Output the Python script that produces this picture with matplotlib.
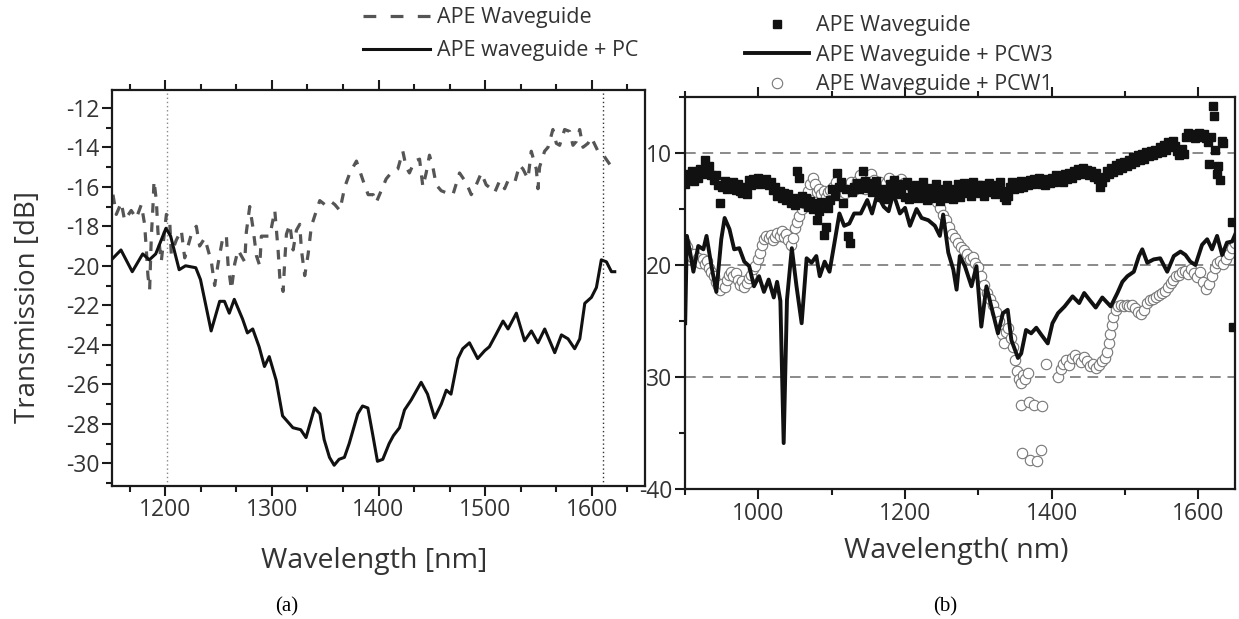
import matplotlib
matplotlib.use("Agg")
import matplotlib.pyplot as plt
from matplotlib.ticker import MultipleLocator, AutoMinorLocator
from matplotlib.lines import Line2D

plt.rcParams['font.family'] = ['Open Sans', 'DejaVu Sans']
plt.rcParams['axes.unicode_minus'] = False

# ---------------- panel (a) data ----------------
# APE waveguide alone (dashed, very noisy)
ape_x = [1150.9, 1154.0, 1158.7, 1161.8, 1168.0, 1172.8, 1177.5, 1180.6, 1182.2, 1183.7,
         1185.3, 1186.9, 1188.4, 1189.4, 1191.6, 1193.1, 1196.2, 1201.0, 1204.0, 1205.6,
         1210.3, 1215.0, 1218.2, 1224.4, 1229.1, 1232.2, 1237.0, 1243.2, 1246.3, 1249.5,
         1254.2, 1257.3, 1258.8, 1262.0, 1265.1, 1268.2, 1274.5, 1276.0, 1279.2, 1282.3,
         1285.5, 1288.6, 1290.1, 1294.8, 1298.0, 1302.7, 1305.8, 1307.4, 1310.5, 1312.0,
         1313.6, 1316.8, 1319.9, 1323.0, 1326.1, 1327.7, 1330.8, 1334.0, 1337.0, 1341.8,
         1344.9, 1349.6, 1354.3, 1359.0, 1363.7, 1368.4, 1373.1, 1379.3, 1385.6, 1390.3,
         1395.0, 1397.8, 1402.5, 1407.2, 1411.8, 1415.0, 1418.1, 1422.8, 1425.9, 1429.0,
         1433.8, 1438.5, 1441.6, 1444.7, 1447.8, 1451.0, 1454.1, 1458.8, 1463.5, 1469.8,
         1476.0, 1482.3, 1487.0, 1491.7, 1496.4, 1501.0, 1505.7, 1508.9, 1513.6, 1518.3,
         1521.4, 1527.7, 1532.3, 1535.5, 1540.2, 1543.3, 1548.0, 1549.6, 1551.1, 1555.8,
         1559.0, 1563.6, 1566.8, 1569.9, 1574.6, 1579.3, 1582.4, 1585.6, 1588.7, 1591.8,
         1596.5, 1599.6, 1605.9, 1612.2, 1620.0]
ape_y = [-16.4, -17.4, -16.8, -17.7, -17.2, -17.6, -16.9, -17.9, -19.2, -20.5,
         -21.2, -18.5, -17.0, -15.7, -16.7, -18.3, -19.8, -17.4, -17.6, -19.4,
         -18.7, -18.2, -19.6, -18.4, -18.0, -19.0, -18.6, -19.8, -21.0, -19.9,
         -18.5, -18.5, -19.9, -21.2, -19.9, -19.2, -19.8, -18.3, -17.0, -18.1,
         -19.5, -20.0, -18.5, -18.5, -18.5, -17.2, -19.2, -20.6, -21.3, -19.8,
         -18.4, -17.9, -19.2, -18.2, -17.9, -19.2, -20.5, -19.4, -18.0, -17.2,
         -16.7, -16.9, -16.7, -16.9, -17.2, -16.0, -15.3, -14.7, -15.7, -16.4,
         -16.4, -16.8, -16.2, -15.6, -15.3, -15.2, -15.1, -14.2, -15.0, -15.3,
         -14.7, -14.6, -16.0, -15.3, -14.4, -15.0, -15.9, -16.2, -16.3, -16.4,
         -15.3, -15.8, -16.4, -15.9, -15.3, -15.9, -16.1, -16.3, -15.7, -16.1,
         -15.7, -15.8, -14.9, -15.1, -15.6, -14.2, -15.1, -16.1, -15.0, -14.2,
         -14.0, -13.1, -13.8, -13.9, -13.1, -13.2, -13.9, -13.7, -13.1, -14.0,
         -13.8, -13.5, -14.2, -14.5, -15.1]

# APE waveguide + PC (solid)
pc_x = [1149.4, 1158.4, 1169.0, 1178.8, 1185.0, 1191.0, 1200.6, 1205.0, 1213.0, 1219.0,
        1228.6, 1233.0, 1243.0, 1251.0, 1255.5, 1260.0, 1264.7, 1272.5, 1277.0, 1282.0,
        1288.0, 1293.0, 1297.5, 1304.0, 1310.0, 1319.7, 1327.0, 1332.0, 1340.0, 1345.0,
        1349.0, 1354.0, 1358.4, 1363.0, 1368.0, 1372.5, 1380.5, 1385.0, 1390.0, 1394.4,
        1399.0, 1404.0, 1410.0, 1414.0, 1419.7, 1424.4, 1430.6, 1440.0, 1446.0, 1452.6,
        1458.9, 1463.6, 1468.0, 1474.5, 1479.0, 1485.3, 1493.0, 1499.6, 1504.0, 1510.0,
        1516.8, 1521.5, 1529.3, 1537.0, 1543.4, 1549.6, 1555.9, 1565.3, 1571.6, 1577.8,
        1584.0, 1588.8, 1593.5, 1599.7, 1604.4, 1609.0, 1613.8, 1618.5, 1621.6]
pc_y = [-19.7, -19.2, -20.3, -19.4, -19.7, -19.4, -18.1, -18.5, -20.2, -20.0,
        -20.1, -20.7, -23.3, -21.8, -21.8, -22.4, -21.7, -22.7, -23.4, -23.2,
        -24.1, -25.1, -24.6, -25.8, -27.6, -28.2, -28.3, -28.7, -27.2, -27.5,
        -28.8, -29.7, -30.1, -29.8, -29.7, -29.0, -27.5, -27.1, -27.2, -28.5,
        -29.9, -29.8, -29.0, -28.6, -28.2, -27.3, -26.8, -25.9, -26.5, -27.7,
        -27.0, -26.3, -26.5, -24.7, -24.2, -23.9, -24.7, -24.3, -24.1, -23.5,
        -22.8, -23.2, -22.4, -23.8, -23.3, -23.9, -23.2, -24.4, -23.5, -23.7,
        -24.2, -23.7, -21.9, -21.6, -21.1, -19.7, -19.8, -20.3, -20.3]

marker_lines = [1202, 1611]

# ---------------- panel (b) data ----------------
# APE waveguide (squares)
sq_x = [900, 903, 906, 909, 912, 915, 918, 921, 924, 927, 930, 933, 936, 939, 942, 945, 948, 951,
        954, 957, 960, 963, 966, 969, 972, 975, 978, 981, 984, 987, 990, 993, 996, 999, 1002, 1005,
        1008, 1011, 1014, 1017, 1020, 1023, 1026, 1029, 1032, 1035, 1038, 1041, 1044, 1047, 1050,
        1053, 1056, 1059, 1062, 1065, 1068, 1071, 1074, 1077, 1080, 1083, 1086, 1089, 1092, 1095,
        1098, 1101, 1104, 1107, 1110, 1113, 1116, 1119, 1122, 1125, 1128, 1131, 1134, 1137, 1140,
        1143, 1146, 1149, 1152, 1155, 1158, 1161, 1164, 1167, 1170, 1173, 1176, 1179, 1182, 1185,
        1188, 1191, 1194, 1197, 1200, 1203, 1206, 1209, 1212, 1215, 1218, 1221, 1224, 1227, 1230,
        1233, 1236, 1239, 1242, 1245, 1248, 1251, 1254, 1257, 1260, 1263, 1266, 1269, 1272, 1275,
        1278, 1281, 1284, 1287, 1290, 1293, 1296, 1299, 1302, 1305, 1308, 1311, 1314, 1317, 1320,
        1323, 1326, 1329, 1332, 1335, 1338, 1340, 1343, 1346, 1349, 1352, 1355, 1358, 1361, 1364,
        1367, 1370, 1373, 1376, 1379, 1382, 1385, 1388, 1391, 1394, 1397, 1400, 1403, 1406, 1409,
        1412, 1415, 1418, 1421, 1424, 1427, 1430, 1433, 1436, 1439, 1442, 1445, 1448, 1451, 1454,
        1457, 1460, 1463, 1466, 1469, 1472, 1475, 1478, 1481, 1484, 1487, 1490, 1493, 1496, 1499,
        1502, 1505, 1508, 1511, 1514, 1517, 1520, 1523, 1526, 1529, 1532, 1535, 1538, 1541, 1544,
        1547, 1550, 1553, 1556, 1559, 1562, 1565, 1568, 1571, 1574, 1577, 1580, 1583, 1586, 1589,
        1592, 1595, 1598, 1601, 1604, 1607, 1610, 1613, 1614, 1617, 1620, 1621, 1623, 1625, 1627,
        1630, 1632, 1634, 1646, 1647]
sq_y = [12.8, 11.9, 12.3, 11.6, 12.5, 11.8, 12.2, 11.4, 11.9, 10.6, 11.5, 11.2, 12.0, 12.4, 12.0,
        12.9, 14.5, 13.0, 12.5, 13.2, 12.7, 13.1, 12.6, 13.3, 12.8, 13.4, 13.6, 13.0, 13.7, 12.4,
        12.9, 12.3, 12.6, 12.2, 12.8, 12.4, 12.7, 12.3, 12.9, 12.6, 13.3, 13.0, 13.8, 13.4, 14.0,
        13.6, 14.2, 13.7, 14.5, 14.0, 14.6, 11.6, 12.2, 13.8, 14.5, 14.0, 14.8, 14.3, 15.0, 14.5,
        16.0, 15.2, 14.4, 17.3, 16.6, 14.9, 14.2, 13.2, 13.8, 11.8, 13.0, 12.6, 14.5, 13.2, 17.4,
        18.0, 13.5, 13.0, 12.7, 13.2, 12.8, 11.6, 12.5, 13.1, 12.7, 13.5, 13.0, 12.5, 13.3, 13.9,
        13.2, 14.1, 13.4, 12.8, 13.6, 12.4, 13.5, 12.8, 13.7, 12.9, 13.9, 12.6, 14.1, 13.3, 13.8,
        12.9, 14.0, 13.4, 12.6, 13.6, 14.2, 13.1, 14.0, 13.5, 12.8, 13.7, 14.3, 13.2, 14.0, 12.9,
        13.8, 13.2, 14.1, 13.4, 12.8, 13.9, 13.3, 12.7, 13.6, 13.0, 13.8, 12.6, 13.4, 12.9, 13.6,
        12.9, 13.8, 13.2, 12.7, 13.5, 12.9, 13.7, 13.1, 12.6, 13.4, 13.9, 14.2, 13.8, 13.0, 12.6,
        13.2, 12.7, 13.1, 12.5, 13.0, 12.6, 12.9, 12.4, 12.8, 12.3, 12.7, 12.2, 12.8, 12.4, 12.9,
        12.3, 12.7, 12.2, 12.6, 12.0, 12.5, 12.1, 12.6, 11.9, 12.3, 11.8, 12.2, 11.6, 12.0, 11.4,
        11.9, 11.3, 11.8, 11.5, 12.0, 11.6, 12.1, 11.8, 12.3, 13.0, 12.6, 12.1, 11.6, 11.9, 11.3,
        11.7, 11.1, 11.5, 10.9, 11.3, 10.8, 11.2, 10.6, 11.0, 10.4, 10.8, 10.2, 10.6, 10.1, 10.5,
        9.9, 10.3, 9.8, 10.2, 9.7, 10.0, 9.5, 9.9, 9.3, 9.7, 9.0, 9.5, 8.9, 9.4, 9.8, 10.2, 9.6,
        10.1, 8.6, 8.2, 8.5, 8.3, 8.7, 8.4, 8.2, 8.6, 8.3, 8.7, 9.0, 11.0, 8.6, 5.8, 6.7, 9.7,
        11.9, 11.2, 12.4, 8.9, 9.1, 16.2, 25.5]

# APE waveguide + PCW3 (solid line)
pcw3_x = [900.2, 902.5, 907.0, 911.4, 918.0, 925.0, 929.3, 936.0, 942.7, 949.4, 954.0, 960.6,
          967.0, 974.0, 980.8, 987.5, 994.0, 1000.9, 1007.6, 1014.0, 1021.0, 1025.5, 1030.0,
          1034.5, 1039.0, 1045.6, 1052.0, 1059.0, 1065.8, 1072.5, 1079.0, 1083.7, 1090.4, 1097.0,
          1103.8, 1110.5, 1117.0, 1124.0, 1130.6, 1139.6, 1148.5, 1155.0, 1162.0, 1171.0, 1177.6,
          1184.0, 1193.0, 1200.0, 1206.7, 1215.7, 1222.6, 1231.7, 1240.7, 1247.5, 1252.0, 1259.0,
          1265.8, 1270.3, 1274.7, 1281.6, 1290.6, 1297.4, 1304.0, 1311.0, 1317.6, 1326.7, 1333.5,
          1340.0, 1345.0, 1354.0, 1358.4, 1365.0, 1372.0, 1379.0, 1385.5, 1394.6, 1401.0, 1408.6,
          1417.6, 1428.5, 1437.5, 1444.3, 1451.4, 1460.0, 1469.0, 1480.5, 1489.6, 1496.4, 1503.2,
          1512.0, 1519.0, 1523.5, 1530.3, 1539.0, 1548.0, 1557.5, 1566.5, 1575.6, 1582.4, 1589.0,
          1596.0, 1605.0, 1612.0, 1618.6, 1625.5, 1632.4, 1639.0, 1646.0, 1650.0]
pcw3_y = [25.2, 17.4, 18.9, 20.6, 18.3, 18.6, 17.4, 20.1, 22.4, 17.7, 15.8, 16.8,
          18.6, 18.5, 19.7, 20.1, 21.9, 21.0, 22.4, 21.3, 22.9, 21.5, 23.2,
          35.9, 23.1, 18.5, 21.9, 25.2, 19.4, 19.8, 19.2, 21.0, 19.7, 20.6,
          18.0, 15.4, 16.5, 16.3, 15.4, 15.4, 14.2, 15.4, 13.7, 14.8, 15.2,
          13.6, 15.4, 14.9, 16.5, 15.0, 15.8, 16.0, 16.5, 17.4, 15.5, 18.9,
          20.4, 22.2, 19.2, 20.1, 21.9, 20.1, 25.5, 21.9, 23.7, 26.1, 24.3,
          24.0, 26.7, 28.3, 27.9, 25.8, 26.1, 25.6, 26.2, 27.0, 25.2, 24.3,
          23.7, 22.8, 23.4, 22.5, 23.1, 23.8, 22.9, 23.7, 22.5, 21.5, 21.0,
          20.6, 19.2, 18.6, 19.8, 19.5, 19.4, 20.6, 19.2, 18.8, 19.1, 19.7,
          20.0, 18.2, 17.7, 18.6, 17.4, 19.1, 18.0, 17.9, 17.3]

# APE waveguide + PCW1 (open circles)
ci_x = [900, 903, 906, 909, 912, 915, 918, 921, 924, 927, 930, 933, 936, 939, 942, 945, 948, 951,
        954, 957, 960, 963, 966, 969, 972, 975, 978, 981, 984, 987, 990, 993, 996, 999, 1002, 1005,
        1008, 1011, 1014, 1017, 1020, 1023, 1026, 1029, 1032, 1035, 1038, 1041, 1044, 1047, 1050,
        1053, 1056, 1059, 1062, 1065, 1068, 1071, 1074, 1077, 1080, 1083, 1086, 1089, 1092, 1095,
        1098, 1102, 1106, 1110, 1114, 1118, 1122, 1126, 1130, 1134, 1138, 1142, 1146, 1150, 1154,
        1158, 1162, 1166, 1170, 1174, 1178, 1182, 1186, 1190, 1194, 1198, 1202, 1206, 1210, 1214,
        1218, 1222, 1226, 1230, 1234, 1240, 1244, 1248, 1252, 1256, 1260, 1264, 1268, 1272, 1276,
        1280, 1284, 1288, 1292, 1296, 1300, 1304, 1308, 1312, 1316, 1320, 1324, 1328, 1332, 1335,
        1338, 1341, 1344, 1347, 1350, 1352, 1355, 1358, 1361, 1364, 1367,
        1358, 1369, 1376, 1387, 1360, 1370, 1380, 1386, 1392,
        1408, 1412, 1416, 1420, 1424, 1428, 1432, 1436, 1440, 1444, 1448, 1452, 1456, 1460, 1464,
        1468, 1472, 1476, 1478, 1480, 1482, 1484, 1487, 1490, 1494, 1498, 1502, 1506, 1510, 1514,
        1518, 1522, 1526, 1530, 1534, 1538, 1542, 1546, 1550, 1554, 1558, 1562, 1566, 1570, 1574,
        1578, 1582, 1586, 1590, 1594, 1598, 1602, 1606, 1610, 1614, 1618, 1622, 1626, 1630, 1634,
        1638, 1642, 1646, 1650]
ci_y = [18.0, 18.4, 18.9, 19.3, 19.0, 19.6, 19.4, 19.8, 19.5, 19.9, 19.6, 20.3, 20.6, 21.0, 21.5,
        21.9, 22.2, 21.7, 22.0, 21.3, 20.9, 20.6, 21.0, 20.7, 21.3, 21.8, 21.4, 22.0, 21.6, 21.2,
        20.9, 20.4, 20.1, 19.5, 18.9, 18.2, 17.7, 17.4, 17.6, 17.3, 17.8, 17.5, 17.1, 17.4, 17.0,
        17.5, 17.2, 17.8, 18.2, 17.6, 16.7, 16.2, 15.6, 15.0, 14.5, 14.0, 13.4, 12.8, 12.2, 12.8,
        13.5, 13.2, 13.7, 13.4, 13.9, 13.5, 13.3, 13.0, 12.6, 13.4, 12.8, 13.6, 13.1, 12.6, 13.3,
        12.5, 12.0, 12.7, 13.2, 12.5, 11.9, 12.4, 13.0, 12.6, 13.3, 12.7, 12.2, 12.8, 13.4, 12.9,
        12.3, 12.7, 13.2, 13.6, 13.1, 13.7, 13.4, 13.3, 13.8, 13.5, 13.9, 14.0, 14.4, 14.9, 15.5,
        16.0, 16.6, 17.2, 17.6, 18.0, 18.4, 18.7, 19.0, 19.5, 19.3, 19.8, 20.2, 21.0, 21.8, 22.5,
        23.0, 23.6, 24.2, 25.0, 26.2, 27.0, 26.0, 25.6, 26.5, 27.3, 28.5, 29.5, 30.2, 30.5, 29.8,
        30.2, 29.6,
        32.5, 32.2, 32.5, 32.6, 36.8, 37.4, 37.5, 36.5, 28.8,
        30.0, 29.3, 28.8, 28.5, 28.9, 28.3, 28.0, 28.4, 28.7, 28.2, 28.6, 29.0, 28.8, 29.2, 28.9,
        28.6, 28.3, 27.8, 27.0, 26.2, 25.4, 24.6, 24.0, 23.7, 23.6, 23.7, 23.6, 23.7, 23.6, 23.8,
        24.2, 24.4, 24.0, 23.4, 23.1, 23.0, 22.9, 22.7, 22.5, 22.3, 22.0, 21.6, 21.3, 21.0, 20.9,
        20.6, 20.5, 20.8, 20.4, 20.7, 21.1, 20.6, 21.5, 22.1, 21.7, 21.0, 20.3, 19.8, 19.6, 19.9,
        19.5, 19.0, 18.5, 18.0]

grid_levels = [10, 20, 30]

# ---------------- figure ----------------
fig = plt.figure(figsize=(12.39, 6.19), dpi=100)
axA = fig.add_axes([0.0904, 0.2149, 0.4302, 0.6397])
axB = fig.add_axes([0.5529, 0.2100, 0.4439, 0.6333])

txt = '#333333'
for ax in (axA, axB):
    for s in ax.spines.values():
        s.set_linewidth(1.6)
        s.set_color('#1a1a1a')
    ax.tick_params(which='both', direction='out', width=1.5, color='#1a1a1a',
                   labelsize=16.5, labelcolor=txt, pad=2)
    ax.tick_params(which='major', length=7)
    ax.tick_params(which='minor', length=4)
    ax.tick_params(axis='x', which='both', top=True)

# panel (a)
for xv, c in zip(marker_lines, ['#888888', '#333333']):
    axA.axvline(xv, color=c, lw=1.0, ls=(0, (1, 2)), zorder=1)
axA.plot(ape_x, ape_y, color='#555555', lw=2.3, ls=(0, (3, 3)), zorder=2)
axA.plot(pc_x, pc_y, color='#111111', lw=2.2, zorder=3)
axA.set_xlim(1150, 1650)
axA.set_ylim(-31.15, -11.1)
axA.xaxis.set_major_locator(MultipleLocator(100))
axA.xaxis.set_minor_locator(AutoMinorLocator(3))
axA.yaxis.set_major_locator(MultipleLocator(2))
axA.yaxis.set_minor_locator(MultipleLocator(1))

# panel (b)
for g in grid_levels:
    axB.axhline(g, color='#8a8a8a', lw=1.4, ls=(0, (5.5, 3.5)), zorder=1)
axB.plot(ci_x, ci_y, ls='none', marker='o', ms=7.5, mfc='white', mec='#777777', mew=0.8, zorder=2)
axB.plot(sq_x, sq_y, ls='none', marker='s', ms=5.5, color='#111111', zorder=3)
axB.plot(pcw3_x, pcw3_y, color='#111111', lw=2.8, zorder=4)
axB.set_xlim(900, 1650)
axB.set_ylim(40, 5)
axB.set_xticks([1000, 1200, 1400, 1600])
axB.xaxis.set_minor_locator(MultipleLocator(100))
axB.set_yticks([10, 20, 30, 40])
axB.set_yticklabels(['10', '20', '30', '-40'])
axB.yaxis.set_minor_locator(MultipleLocator(5))

# axis labels and captions
fig.text(0.0226, 0.504, 'Transmission [dB]', rotation=90, ha='center', va='center',
         fontsize=20, color=txt)
fig.text(0.302, 0.094, 'Wavelength [nm]', ha='center', va='center', fontsize=20.5, color=txt)
fig.text(0.772, 0.110, 'Wavelength( nm)', ha='center', va='center', fontsize=20.5, color=txt)
fig.text(0.231, 0.019, '(a)', ha='center', va='center', fontsize=15,
         family='Liberation Serif', color='black')
fig.text(0.763, 0.019, '(b)', ha='center', va='center', fontsize=15,
         family='Liberation Serif', color='black')

# legends
hA = [Line2D([], [], color='#555555', lw=2.3, ls=(0, (4, 4.5))),
      Line2D([], [], color='#111111', lw=2.2)]
fig.legend(hA, ['APE Waveguide', 'APE waveguide + PC'], loc='upper left',
           bbox_to_anchor=(0.293, 0.988), frameon=False, fontsize=15.5,
           handlelength=3.1, handletextpad=0.33, labelspacing=0.55, borderpad=0,
           borderaxespad=0, labelcolor=txt)
hB = [Line2D([], [], ls='none', marker='s', ms=6, color='#111111'),
      Line2D([], [], color='#111111', lw=2.8),
      Line2D([], [], ls='none', marker='o', ms=7.5, mfc='white', mec='#777777', mew=0.8)]
fig.legend(hB, ['APE Waveguide', 'APE Waveguide + PCW3', 'APE Waveguide + PCW1'],
           loc='upper left', bbox_to_anchor=(0.601, 0.975), frameon=False, fontsize=15.5,
           handlelength=3.0, handletextpad=0.33, labelspacing=0.39, borderpad=0,
           borderaxespad=0, labelcolor=txt)

fig.savefig('out.png', dpi=100)
